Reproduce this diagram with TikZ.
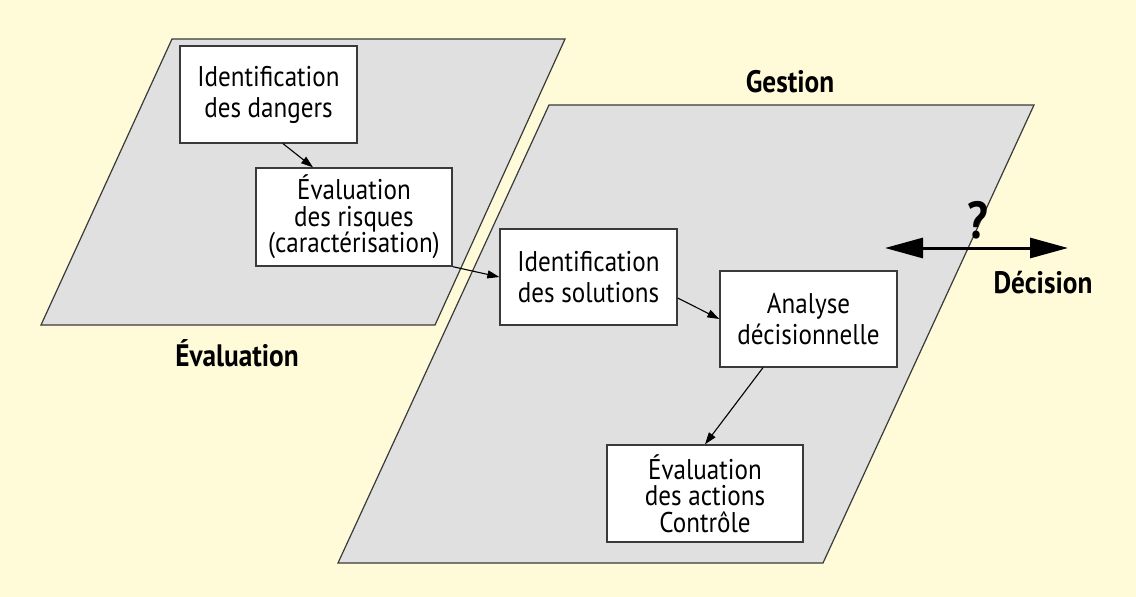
\documentclass[tikz,border=0pt]{standalone}
\usepackage{fontspec}
\setmainfont{PT Sans}[FakeStretch=0.88]
\usetikzlibrary{arrows.meta,calc}
\definecolor{bgyellow}{HTML}{FFFBD9}
\definecolor{panelgray}{HTML}{E0E0E0}
\definecolor{edgegray}{HTML}{3A3A3A}
\begin{document}
\begin{tikzpicture}[x=1pt,y=-1pt,
  panel/.style={fill=panelgray,draw=edgegray,line width=1.2pt,line join=miter},
  boxnode/.style={draw=edgegray,fill=white,line width=1.3pt,inner sep=0pt,align=center,
    font=\fontsize{28.5}{31}\selectfont},
  boxthree/.style={boxnode,font=\fontsize{28.5}{26.5}\selectfont},
  biglabel/.style={font=\bfseries\fontsize{31}{32}\selectfont,inner sep=0pt},
  flow/.style={line width=1.1pt,draw=black,-{Triangle[length=12pt,width=8pt]}},
  bigarrow/.style={line width=3pt,{Triangle[length=38pt,width=20pt]}-{Triangle[length=38pt,width=20pt]}}
]
\useasboundingbox[fill=bgyellow] (0,0) rectangle (1136,597);

% panels
\draw[panel] (172,39) -- (565,39) -- (435,325) -- (41,325) -- cycle;
\draw[panel] (549,105) -- (1034,105) -- (823,563) -- (338,563) -- cycle;

% labels
\node[biglabel] (lEval) at (237,353) {Évaluation};
\node[biglabel] (lGest) at (790,82) {Gestion};
\node[biglabel] (lDec) at (1043,283) {Décision};
\node[font=\bfseries\fontsize{52}{52}\selectfont,inner sep=0pt] (qmark) at (978,220) {?};

% boxes
\node[boxnode,minimum width=177pt,minimum height=97pt] (dangers) at (268.5,94.5)
  {Identification\\des dangers};
\node[boxthree,minimum width=196pt,minimum height=98pt] (risques) at (354,217)
  {Évaluation\\des risques\\(caractérisation)};
\node[boxnode,minimum width=177pt,minimum height=96pt] (solutions) at (588.5,277)
  {Identification\\des solutions};
\node[boxnode,minimum width=177pt,minimum height=96pt] (analyse) at (808.5,319)
  {Analyse\\décisionnelle};
\node[boxthree,minimum width=196pt,minimum height=97pt] (actions) at (705,493.5)
  {Évaluation\\des actions\\Contrôle};

% connectors
\draw[flow] ([xshift=14.5pt]dangers.south) -- ([xshift=-41pt]risques.north);
\draw[flow] (risques.south east) -- (solutions.west);
\draw[flow] ([yshift=-21pt]solutions.east) -- (analyse.west);
\draw[flow] ([xshift=-45.5pt]analyse.south) -- (actions.north);

% decision double arrow
\coordinate (dl) at (885,248);
\coordinate (dr) at (1068,248);
\draw[bigarrow] (dl) -- (dr);
\end{tikzpicture}
\end{document}
